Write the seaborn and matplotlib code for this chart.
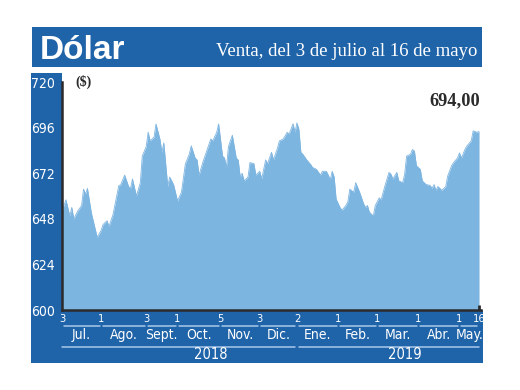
import matplotlib
matplotlib.use('Agg')
import matplotlib.pyplot as plt
from matplotlib.patches import Rectangle
import seaborn as sns
import pandas as pd

# Dólar observado, venta (índice de día hábil desde el 3 de julio de 2018)
dia = [0, 2, 4, 5, 6, 8, 10, 11, 12, 13, 15, 18, 20, 21, 23, 24, 26, 29, 30, 32,
       34, 35, 36, 38, 40, 41, 43, 44, 45, 47, 48, 50, 51, 52, 54, 55, 57, 59, 61, 63,
       65, 66, 68, 69, 70, 72, 74, 76, 77, 79, 80, 82, 83, 84, 85, 87, 89, 90, 91, 92,
       93, 95, 96, 98, 99, 101, 102, 104, 105, 107, 108, 110, 111, 113, 115, 116, 118, 119, 120, 121,
       122, 123, 125, 127, 128, 130, 132, 133, 135, 136, 137, 138, 139, 140, 142, 143, 145, 146, 147, 149,
       150, 152, 154, 155, 156, 157, 159, 160, 162, 163, 165, 167, 168, 169, 171, 172, 174, 175, 176, 178,
       179, 180, 181, 183, 184, 186, 188, 189, 190, 191, 192, 194, 196, 197, 199, 200, 202, 203, 204, 206,
       207, 209, 210, 212, 213]
valor = [652, 658, 649.5, 654, 648, 652, 655, 663.6, 661, 664, 651, 638.2, 642, 645, 647, 644, 650, 665.4, 666, 671,
         665, 664, 669, 660, 667, 681, 686, 693.6, 689, 691, 697.9, 690, 683, 688, 665, 670, 666, 657.4, 662, 676.8,
         682, 686.4, 680, 679, 671, 678, 684, 690, 689, 693.5, 697.9, 681, 680, 675, 686, 692, 680, 679, 670, 672,
         668, 670, 677.6, 677, 671, 673, 669, 679, 677, 683, 679, 685, 689, 690, 693.5, 692.6, 698, 693.5, 698.5, 695,
         683, 682, 679, 676.6, 675, 674, 671, 673, 673, 671, 668.6, 673, 670, 658.4, 654, 652.5, 655, 657, 663.6, 662,
         667, 662, 656, 654, 655, 651.5, 649.5, 655, 659, 658, 665.6, 672.4, 671.5, 669, 672.4, 668, 667, 671.5, 681, 682,
         684.5, 683.6, 676, 674, 668, 666, 665.6, 664, 666, 663, 665, 663, 665, 670.6, 676, 677.6, 680, 682.7, 680, 685,
         686.6, 689, 694.3, 693.5, 694]

tick_dias = [0, 20, 43, 59, 81, 101, 120, 141, 161, 182, 203, 213]
tick_labels = ['3', '1', '3', '1', '5', '3', '2', '1', '1', '1', '1', '16']
meses = ['Jul.', 'Ago.', 'Sept.', 'Oct.', 'Nov.', 'Dic.', 'Ene.', 'Feb.', 'Mar.', 'Abr.', 'May.']
anios = ['2018', '2019']
anio_pos = [76, 175]
y_ticks = [600, 624, 648, 672, 696, 720]
ultimo = '694,00'

azul = '#1f63a8'
relleno = '#7db5e1'
oscuro = '#2b2b2b'
linea_clara = '#a9c8ea'

sns.set_style('white')
plt.rcParams['font.family'] = ['DejaVu Sans']
plt.rcParams['font.stretch'] = 'condensed'

fig = plt.figure(figsize=(5.2, 3.9), dpi=100)
fig.patch.set_facecolor('white')

# marco azul
W, H = 520, 390
for x0, y0, w, h in [(32, 27, 450, 40), (31, 73, 31, 290), (31, 310, 452, 53)]:
    fig.add_artist(Rectangle((x0 / W, 1 - (y0 + h) / H), w / W, h / H,
                             transform=fig.transFigure, color=azul, lw=0, zorder=-1))

ax = fig.add_axes([62 / W, 80 / H, 419 / W, 228 / H])
df = pd.DataFrame({'dia': dia, 'valor': valor})
ax.fill_between(df['dia'], y_ticks[0], df['valor'], color=relleno, lw=0)
sns.lineplot(data=df, x='dia', y='valor', color=relleno, lw=0.6, ax=ax)

ax.set_xlim(0, 214)
ax.set_ylim(600, 720)
ax.set_xlabel('')
ax.set_ylabel('')
ax.set_axisbelow(True)
ax.set_yticks(y_ticks)
ax.set_xticks(tick_dias, tick_labels)
ax.tick_params(axis='y', direction='in', length=7, width=2, color=oscuro,
               labelcolor='white', labelsize=10, pad=5)
ax.tick_params(axis='x', length=0, labelcolor='white', labelsize=8, pad=3)
for s in ['top', 'right']:
    ax.spines[s].set_visible(False)
for s in ['left', 'bottom']:
    ax.spines[s].set_color(oscuro)
    ax.spines[s].set_linewidth(1.8)
ax.vlines(dia[-1], y_ticks[0], y_ticks[0] + 2.5, color=oscuro, lw=2)

trans = ax.get_xaxis_transform()
for i, m in enumerate(meses):
    a, b = tick_dias[i], tick_dias[i + 1]
    ax.plot([a + 0.8, b - 0.8], [-0.07, -0.07], transform=trans, color=linea_clara,
            lw=1.1, clip_on=False)
    ax.text((a + b) / 2, -0.11, m, transform=trans, ha='center', va='center',
            color='white', fontsize=10)

corte = tick_dias[6]
for (a, b), anio, px in zip([(tick_dias[0], corte - 0.8), (corte + 0.8, tick_dias[-1])], anios, anio_pos):
    ax.plot([a, b], [-0.162, -0.162], transform=trans, color=linea_clara, lw=1.1, clip_on=False)
    ax.text(px, -0.197, anio, transform=trans, ha='center', va='center',
            color='white', fontsize=10.5)

fig.text(75 / W, 1 - 82 / H, '($)', va='center', ha='left', fontsize=10,
         fontweight='bold', color=oscuro, family='Liberation Serif')
fig.text(480 / W, 1 - 105.5 / H, ultimo, ha='right', va='baseline', fontsize=13.2,
         fontweight='bold', color=oscuro, family='Liberation Serif')
fig.text(40 / W, 1 - 59 / H, 'Dólar', ha='left', va='baseline', fontsize=24,
         fontweight='bold', color='white', family=['Liberation Sans', 'DejaVu Sans'])
fig.text(477 / W, 1 - 56 / H, 'Venta, del 3 de julio al 16 de mayo', ha='right',
         va='baseline', fontsize=13.5, color='white', family='Liberation Serif')

fig.savefig('out.png', dpi=100)
